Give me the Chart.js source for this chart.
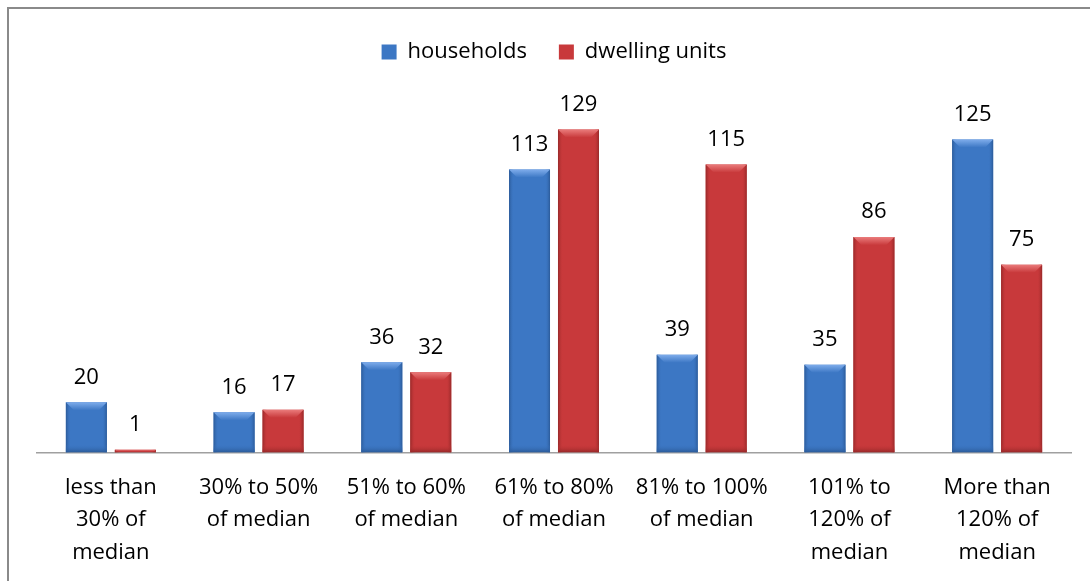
<!DOCTYPE html>
<html>
<head>
<meta charset="utf-8">
<script src="https://cdn.jsdelivr.net/npm/chart.js@4.4.1/dist/chart.umd.min.js"></script>
<style>
    html, body { margin: 0; padding: 0; background: #fff; }
    #wrap { position: relative; width: 1090px; height: 581px; overflow: hidden; }
    #frame {
        position: absolute; left: 7px; top: 7px; width: 1200px; height: 700px;
        border-left: 2px solid #8a8a8a; border-top: 2px solid #8a8a8a;
        box-sizing: border-box; pointer-events: none;
    }
    canvas { position: absolute; left: 0; top: 0; }
</style>
</head>
<body>
<div id="wrap">
    <canvas id="incomeChart" width="1090" height="600"></canvas>
    <div id="frame"></div>
</div>
<script>
// ====== DATA ======
const categories = [
    ['less than', '30% of', 'median'],
    ['30% to 50%', 'of median'],
    ['51% to 60%', 'of median'],
    ['61% to 80%', 'of median'],
    ['81% to 100%', 'of median'],
    ['101% to', '120% of', 'median'],
    ['More than', '120% of', 'median']
];
const households = [20, 16, 36, 113, 39, 35, 125];
const dwellingUnits = [1, 17, 32, 129, 115, 86, 75];

const FONT = 'Open Sans';

// Bevel colours per dataset: [main, light top, dark edge]
const shades = [
    ['#3c77c4', '#7eaceb', '#2b5a98'],
    ['#c8393b', '#ea7b7b', '#962828']
];

// extra room under the legend (Excel leaves a gap before the plot)
const legendGap = {
    id: 'legendGap',
    beforeInit(chart) {
        const fit = chart.legend.fit;
        chart.legend.fit = function () {
            fit.bind(chart.legend)();
            this.height += 29;
        };
    }
};

// Excel-like soft bevel drawn over each bar
const bevelPlugin = {
    id: 'bevel',
    afterDatasetsDraw(chart) {
        const ctx = chart.ctx;
        chart.data.datasets.forEach((ds, di) => {
            const meta = chart.getDatasetMeta(di);
            const [main, light, dark] = shades[di];
            meta.data.forEach(bar => {
                const left = bar.x - bar.width / 2;
                const right = bar.x + bar.width / 2;
                const top = bar.y;
                const bottom = bar.base;
                const h = bottom - top;
                if (h < 1) return;
                const b = Math.min(8, h / 2);
                ctx.save();
                // side shading
                let g = ctx.createLinearGradient(left, 0, right, 0);
                g.addColorStop(0, dark);
                g.addColorStop(0.12, main + '00');
                g.addColorStop(0.88, main + '00');
                g.addColorStop(1, dark);
                ctx.fillStyle = g;
                ctx.fillRect(left, top, right - left, h);
                // bottom shading
                g = ctx.createLinearGradient(0, bottom - b, 0, bottom);
                g.addColorStop(0, main + '00');
                g.addColorStop(1, dark);
                ctx.fillStyle = g;
                ctx.fillRect(left, bottom - b, right - left, b);
                // top bevel
                g = ctx.createLinearGradient(0, top, 0, top + b);
                g.addColorStop(0, light);
                g.addColorStop(1, main);
                ctx.fillStyle = g;
                ctx.beginPath();
                ctx.moveTo(left, top);
                ctx.lineTo(right, top);
                ctx.lineTo(right - b, top + b);
                ctx.lineTo(left + b, top + b);
                ctx.closePath();
                ctx.fill();
                ctx.restore();
            });
        });
    }
};

// Value labels above bars
const valueLabels = {
    id: 'valueLabels',
    afterDatasetsDraw(chart) {
        const ctx = chart.ctx;
        ctx.save();
        ctx.font = `22px "${FONT}"`;
        ctx.fillStyle = '#000';
        ctx.textAlign = 'center';
        ctx.textBaseline = 'middle';
        chart.data.datasets.forEach((ds, di) => {
            const meta = chart.getDatasetMeta(di);
            meta.data.forEach((bar, i) => {
                ctx.fillText(ds.data[i], bar.x, bar.y - 25);
            });
        });
        ctx.restore();
    }
};

new Chart(document.getElementById('incomeChart'), {
    type: 'bar',
    data: {
        labels: categories,
        datasets: [
            {
                label: 'households',
                data: households,
                backgroundColor: shades[0][0],
                borderWidth: 0
            },
            {
                label: 'dwelling units',
                data: dwellingUnits,
                backgroundColor: shades[1][0],
                borderWidth: 0
            }
        ]
    },
    options: {
        responsive: false,
        devicePixelRatio: 1,
        animation: false,
        layout: {
            padding: { left: 37, right: 19, top: 9, bottom: 12 }
        },
        datasets: {
            bar: {
                categoryPercentage: 0.663,
                barPercentage: 0.837
            }
        },
        plugins: {
            legend: {
                position: 'top',
                labels: {
                    boxWidth: 15,
                    boxHeight: 15,
                    padding: 32,
                    color: '#000',
                    font: { family: FONT, size: 22 }
                }
            },
            tooltip: { enabled: false }
        },
        scales: {
            x: {
                grid: { display: false, drawTicks: false },
                border: { display: true, color: '#a0a0a0', width: 1.5 },
                ticks: {
                    color: '#000',
                    padding: 19,
                    maxRotation: 0,
                    autoSkip: false,
                    font: { family: FONT, size: 22, lineHeight: 1.48 }
                }
            },
            y: {
                display: false,
                min: 0,
                max: 140
            }
        }
    },
    plugins: [legendGap, bevelPlugin, valueLabels]
});
</script>
</body>
</html>
